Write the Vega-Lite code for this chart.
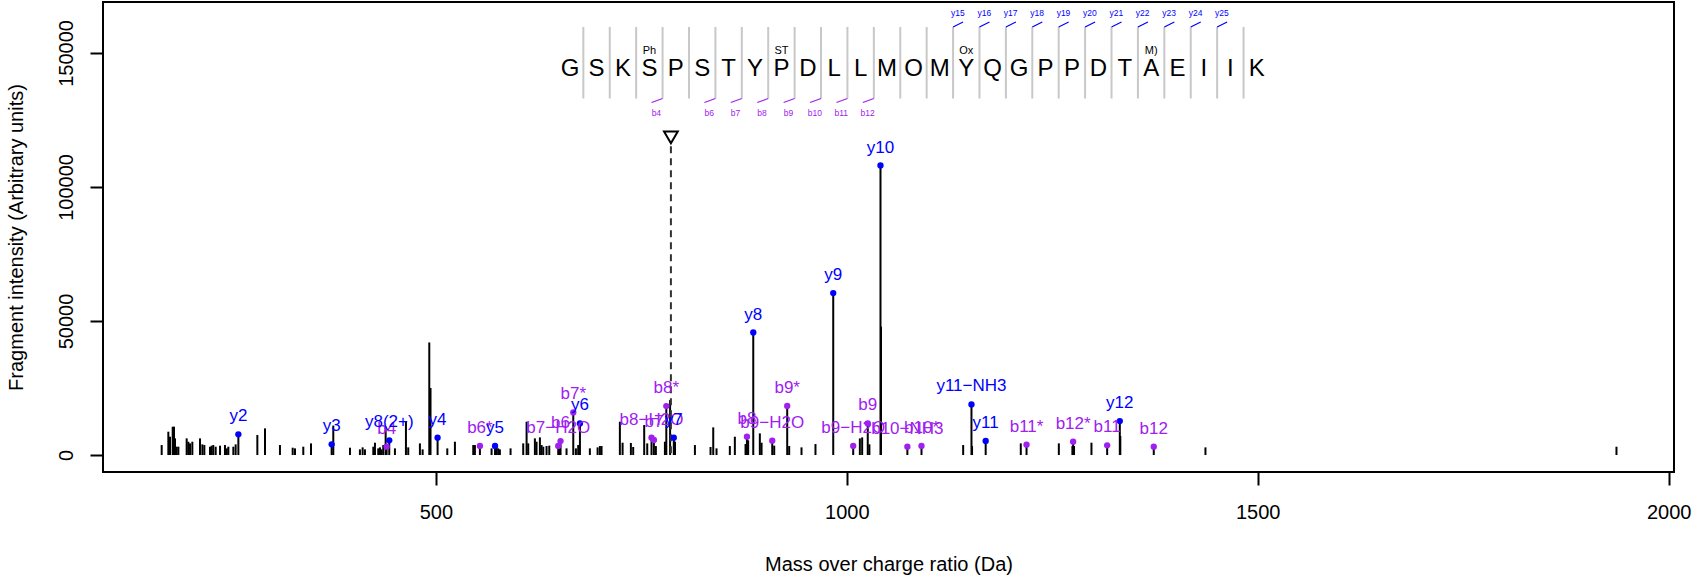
{
  "$schema": "https://vega.github.io/schema/vega-lite/v6.json",
  "width": 1571,
  "height": 470,
  "autosize": {"type": "none"},
  "padding": {"left": 103, "top": 2, "right": 32, "bottom": 107},
  "background": "white",
  "config": {
    "view": {"stroke": "black", "strokeWidth": 2},
    "font": "Liberation Sans",
    "text": {"font": "Liberation Sans"},
    "axis": {
      "domain": false, "grid": false, "ticks": true, "tickSize": 13, "tickWidth": 2, "tickColor": "black",
      "labelFont": "Liberation Sans", "labelFontSize": 20, "labelColor": "black", "labelFlush": false, "labelOverlap": false,
      "titleFont": "Liberation Sans", "titleFontSize": 20, "titleFontWeight": "normal", "titleColor": "black"
    }
  },
  "datasets": {
    "peaks": [
      {"mz":166.4,"intensity":3729},{"mz":174.5,"intensity":8700},{"mz":176.5,"intensity":6837},{"mz":179.8,"intensity":10566},{"mz":181.4,"intensity":10566},{"mz":182.6,"intensity":6215},{"mz":184.6,"intensity":3108},{"mz":186.7,"intensity":3108},{"mz":196.8,"intensity":6215},{"mz":198.8,"intensity":4972},{"mz":200.9,"intensity":4350},{"mz":203.7,"intensity":4972},{"mz":213.0,"intensity":6215},{"mz":215.9,"intensity":3978},{"mz":218.3,"intensity":3729},{"mz":225.2,"intensity":3108},{"mz":227.2,"intensity":3480},{"mz":229.2,"intensity":3729},{"mz":232.1,"intensity":3108},{"mz":237.4,"intensity":3480},{"mz":243.4,"intensity":3729},{"mz":245.5,"intensity":2486},{"mz":247.5,"intensity":3108},{"mz":253.6,"intensity":3108},{"mz":256.4,"intensity":3978},{"mz":259.7,"intensity":7707},{"mz":282.8,"intensity":7458},{"mz":292.1,"intensity":9944},{"mz":310.3,"intensity":3729},{"mz":325.8,"intensity":2735},{"mz":328.6,"intensity":2486},{"mz":338.7,"intensity":3108},{"mz":348.1,"intensity":4350},{"mz":373.2,"intensity":3978},{"mz":375.2,"intensity":11000},{"mz":395.5,"intensity":2735},{"mz":407.6,"intensity":2113},{"mz":410.9,"intensity":2859},{"mz":413.7,"intensity":2113},{"mz":423.9,"intensity":3108},{"mz":425.9,"intensity":4599},{"mz":429.9,"intensity":2486},{"mz":432.0,"intensity":2859},{"mz":434.0,"intensity":2113},{"mz":436.0,"intensity":3729},{"mz":438.9,"intensity":10566},{"mz":440.1,"intensity":3108},{"mz":443.3,"intensity":5469},{"mz":450.2,"intensity":2486},{"mz":463.6,"intensity":12430},{"mz":466.4,"intensity":2859},{"mz":480.6,"intensity":4350},{"mz":483.9,"intensity":2113},{"mz":492.0,"intensity":42000},{"mz":493.5,"intensity":25000},{"mz":502.1,"intensity":6464},{"mz":513.9,"intensity":2486},{"mz":523.2,"intensity":4972},{"mz":545.5,"intensity":3729},{"mz":547.5,"intensity":3729},{"mz":553.6,"intensity":3356},{"mz":567.8,"intensity":2486},{"mz":572.0,"intensity":3356},{"mz":573.9,"intensity":2859},{"mz":575.9,"intensity":2486},{"mz":577.9,"intensity":2113},{"mz":590.9,"intensity":2486},{"mz":606.3,"intensity":4350},{"mz":610.4,"intensity":12430},{"mz":612.4,"intensity":4350},{"mz":620.5,"intensity":6215},{"mz":622.5,"intensity":4972},{"mz":626.6,"intensity":6588},{"mz":628.6,"intensity":3729},{"mz":630.7,"intensity":3108},{"mz":634.7,"intensity":3356},{"mz":638.0,"intensity":3500},{"mz":648.9,"intensity":3356},{"mz":650.9,"intensity":4000},{"mz":651.7,"intensity":5220},{"mz":659.0,"intensity":2486},{"mz":667.2,"intensity":15910},{"mz":670.4,"intensity":2486},{"mz":673.2,"intensity":3729},{"mz":675.3,"intensity":11800},{"mz":687.4,"intensity":2486},{"mz":696.8,"intensity":2859},{"mz":699.6,"intensity":3356},{"mz":701.6,"intensity":3356},{"mz":723.9,"intensity":12430},{"mz":727.2,"intensity":4599},{"mz":737.3,"intensity":4500},{"mz":740.1,"intensity":3000},{"mz":753.5,"intensity":11187},{"mz":757.2,"intensity":4350},{"mz":762.4,"intensity":6464},{"mz":765.3,"intensity":5594},{"mz":767.7,"intensity":3356},{"mz":778.7,"intensity":4972},{"mz":780.4,"intensity":18272},{"mz":785.0,"intensity":20500},{"mz":789.5,"intensity":6464},{"mz":791.0,"intensity":5000},{"mz":815.2,"intensity":3729},{"mz":834.2,"intensity":3000},{"mz":837.5,"intensity":10317},{"mz":841.5,"intensity":2486},{"mz":857.7,"intensity":3356},{"mz":863.8,"intensity":6837},{"mz":876.8,"intensity":4100},{"mz":878.5,"intensity":6837},{"mz":880.0,"intensity":5500},{"mz":886.2,"intensity":45700},{"mz":894.2,"intensity":8080},{"mz":896.3,"intensity":4600},{"mz":909.3,"intensity":5345},{"mz":911.7,"intensity":3500},{"mz":927.5,"intensity":18300},{"mz":929.9,"intensity":3356},{"mz":944.9,"intensity":2859},{"mz":961.9,"intensity":4100},{"mz":983.5,"intensity":60400},{"mz":1007.8,"intensity":3356},{"mz":1015.9,"intensity":6215},{"mz":1018.7,"intensity":6588},{"mz":1025.5,"intensity":11800},{"mz":1027.5,"intensity":4000},{"mz":1041.0,"intensity":108000},{"mz":1041.6,"intensity":47900},{"mz":1073.7,"intensity":3108},{"mz":1090.9,"intensity":3356},{"mz":1141.6,"intensity":3729},{"mz":1151.7,"intensity":18894},{"mz":1152.4,"intensity":3356},{"mz":1169.0,"intensity":5221},{"mz":1211.7,"intensity":4350},{"mz":1218.7,"intensity":3850},{"mz":1258.0,"intensity":4350},{"mz":1274.5,"intensity":3356},{"mz":1275.4,"intensity":4972},{"mz":1276.5,"intensity":3356},{"mz":1297.7,"intensity":4600},{"mz":1316.8,"intensity":3605},{"mz":1332.2,"intensity":12679},{"mz":1332.8,"intensity":7100},{"mz":1373.5,"intensity":3108},{"mz":1436.4,"intensity":2859},{"mz":1936.5,"intensity":3100}
    ],
    "annotations": [
      {"mz":259.7,"intensity":7707,"label":"y2","series":"y"},
      {"mz":373.2,"intensity":3978,"label":"y3","series":"y"},
      {"mz":440.1,"intensity":3108,"label":"b4","series":"b"},
      {"mz":443.3,"intensity":5469,"label":"y8(2+)","series":"y"},
      {"mz":502.1,"intensity":6464,"label":"y4","series":"y"},
      {"mz":553.6,"intensity":3356,"label":"b6*","series":"b"},
      {"mz":572.0,"intensity":3356,"label":"y5","series":"y"},
      {"mz":648.9,"intensity":3356,"label":"b7−H2O","series":"b"},
      {"mz":651.7,"intensity":5220,"label":"b6","series":"b"},
      {"mz":667.2,"intensity":15910,"label":"b7*","series":"b"},
      {"mz":675.3,"intensity":11800,"label":"y6","series":"y"},
      {"mz":762.4,"intensity":6464,"label":"b8−H2O","series":"b"},
      {"mz":765.3,"intensity":5594,"label":"b7","series":"b"},
      {"mz":780.4,"intensity":18272,"label":"b8*","series":"b"},
      {"mz":789.5,"intensity":6464,"label":"y7","series":"y"},
      {"mz":878.5,"intensity":6837,"label":"b8","series":"b"},
      {"mz":886.2,"intensity":45700,"label":"y8","series":"y"},
      {"mz":909.3,"intensity":5345,"label":"b9−H2O","series":"b"},
      {"mz":927.5,"intensity":18300,"label":"b9*","series":"b"},
      {"mz":983.5,"intensity":60400,"label":"y9","series":"y"},
      {"mz":1007.8,"intensity":3356,"label":"b9−H2O","series":"b"},
      {"mz":1025.5,"intensity":11800,"label":"b9","series":"b"},
      {"mz":1041.0,"intensity":108000,"label":"y10","series":"y"},
      {"mz":1073.7,"intensity":3108,"label":"b10−NH3","series":"b"},
      {"mz":1090.9,"intensity":3356,"label":"b10*","series":"b"},
      {"mz":1151.7,"intensity":18894,"label":"y11−NH3","series":"y"},
      {"mz":1169.0,"intensity":5221,"label":"y11","series":"y"},
      {"mz":1218.7,"intensity":3850,"label":"b11*","series":"b"},
      {"mz":1275.4,"intensity":4972,"label":"b12*","series":"b"},
      {"mz":1316.8,"intensity":3605,"label":"b11","series":"b"},
      {"mz":1332.2,"intensity":12679,"label":"y12","series":"y"},
      {"mz":1373.5,"intensity":3108,"label":"b12","series":"b"}
    ],
    "precursor": [{"mz":786.0,"intensity":118500}],
    "residues": [
      {"pos":1,"aa":"G"},{"pos":2,"aa":"S"},{"pos":3,"aa":"K"},{"pos":4,"aa":"S"},{"pos":5,"aa":"P"},{"pos":6,"aa":"S"},{"pos":7,"aa":"T"},{"pos":8,"aa":"Y"},{"pos":9,"aa":"P"},{"pos":10,"aa":"D"},{"pos":11,"aa":"L"},{"pos":12,"aa":"L"},{"pos":13,"aa":"M"},{"pos":14,"aa":"O"},{"pos":15,"aa":"M"},{"pos":16,"aa":"Y"},{"pos":17,"aa":"Q"},{"pos":18,"aa":"G"},{"pos":19,"aa":"P"},{"pos":20,"aa":"P"},{"pos":21,"aa":"D"},{"pos":22,"aa":"T"},{"pos":23,"aa":"A"},{"pos":24,"aa":"E"},{"pos":25,"aa":"I"},{"pos":26,"aa":"I"},{"pos":27,"aa":"K"}
    ],
    "mods": [
      {"pos":4,"mod":"Ph"},{"pos":9,"mod":"ST"},{"pos":16,"mod":"Ox"},{"pos":23,"mod":"M)"}
    ],
    "bions": [
      {"after":4,"label":"b4"},{"after":6,"label":"b6"},{"after":7,"label":"b7"},{"after":8,"label":"b8"},{"after":9,"label":"b9"},{"after":10,"label":"b10"},{"after":11,"label":"b11"},{"after":12,"label":"b12"}
    ],
    "yions": [
      {"after":15,"label":"y15"},{"after":16,"label":"y16"},{"after":17,"label":"y17"},{"after":18,"label":"y18"},{"after":19,"label":"y19"},{"after":20,"label":"y20"},{"after":21,"label":"y21"},{"after":22,"label":"y22"},{"after":23,"label":"y23"},{"after":24,"label":"y24"},{"after":25,"label":"y25"}
    ]
  },
  "layer": [
    {
      "layer": [
        {
          "data": {"name": "peaks"},
          "mark": {"type": "rule", "color": "black", "strokeWidth": 2},
          "encoding": {
            "x": {"field": "mz", "type": "quantitative", "scale": {"domain": [95, 2006.5], "nice": false, "zero": false},
                  "axis": {"title": "Mass over charge ratio (Da)", "values": [500, 1000, 1500, 2000], "format": "d", "labelBaseline": "alphabetic", "labelPadding": 33, "titleY": 92, "titleBaseline": "middle"}},
            "y": {"field": "intensity", "type": "quantitative", "scale": {"domain": [-6330, 169000], "nice": false, "zero": false},
                  "axis": {"title": "Fragment intensity (Arbitrary units)", "values": [0, 50000, 100000, 150000], "format": "d", "labelAngle": -90, "labelAlign": "center", "labelBaseline": "alphabetic", "labelPadding": 18, "titleAngle": -90, "titleX": -87, "titleY": 235, "titleBaseline": "middle", "titleAlign": "center"}},
            "y2": {"datum": 0}
          }
        },
        {
          "data": {"name": "precursor"},
          "mark": {"type": "rule", "color": "#333333", "strokeWidth": 2, "strokeDash": [7, 5], "yOffset": 9},
          "encoding": {
            "x": {"field": "mz", "type": "quantitative"},
            "y": {"field": "intensity", "type": "quantitative"},
            "y2": {"datum": 0}
          }
        },
        {
          "data": {"name": "precursor"},
          "mark": {"type": "point", "shape": "triangle-down", "filled": false, "color": "black", "strokeWidth": 2, "size": 190, "opacity": 1},
          "encoding": {
            "x": {"field": "mz", "type": "quantitative"},
            "y": {"field": "intensity", "type": "quantitative"}
          }
        },
        {
          "data": {"name": "annotations"},
          "mark": {"type": "point", "filled": true, "size": 40, "opacity": 1},
          "encoding": {
            "x": {"field": "mz", "type": "quantitative"},
            "y": {"field": "intensity", "type": "quantitative"},
            "color": {"field": "series", "type": "nominal", "scale": {"domain": ["y", "b"], "range": ["#0000FF", "#A020F0"]}, "legend": null}
          }
        },
        {
          "data": {"name": "annotations"},
          "mark": {"type": "text", "fontSize": 17, "baseline": "middle", "align": "center", "dy": -18},
          "encoding": {
            "x": {"field": "mz", "type": "quantitative"},
            "y": {"field": "intensity", "type": "quantitative"},
            "text": {"field": "label"},
            "color": {"field": "series", "type": "nominal", "scale": {"domain": ["y", "b"], "range": ["#0000FF", "#A020F0"]}, "legend": null}
          }
        }
      ]
    },
    {
      "layer": [
        {
          "data": {"name": "residues"},
          "transform": [{"filter": "datum.pos < 27"}],
          "mark": {"type": "rule", "color": "#C8C8C8", "strokeWidth": 2, "xOffset": 13.2},
          "encoding": {
            "x": {"field": "pos", "type": "quantitative", "scale": {"domain": [-16.69, 42.8], "nice": false, "zero": false}, "axis": null},
            "y": {"datum": 159200, "type": "quantitative", "scale": {"domain": [-6330, 168500], "nice": false, "zero": false}, "axis": null},
            "y2": {"datum": 132600}
          }
        },
        {
          "data": {"name": "residues"},
          "mark": {"type": "text", "fontSize": 24, "baseline": "middle", "align": "center", "color": "black"},
          "encoding": {
            "x": {"field": "pos", "type": "quantitative"},
            "y": {"datum": 143400, "type": "quantitative"},
            "text": {"field": "aa"}
          }
        },
        {
          "data": {"name": "mods"},
          "mark": {"type": "text", "fontSize": 11, "baseline": "middle", "align": "center", "color": "black"},
          "encoding": {
            "x": {"field": "pos", "type": "quantitative"},
            "y": {"datum": 150300, "type": "quantitative"},
            "text": {"field": "mod"}
          }
        },
        {
          "data": {"name": "bions"},
          "mark": {"type": "rule", "color": "#A020F0", "strokeWidth": 1.2, "xOffset": 13.2, "x2Offset": 2.2, "y2Offset": 4},
          "encoding": {
            "x": {"field": "after", "type": "quantitative"},
            "x2": {"field": "after"},
            "y": {"datum": 132600, "type": "quantitative"},
            "y2": {"datum": 132600}
          }
        },
        {
          "data": {"name": "bions"},
          "mark": {"type": "text", "fontSize": 8.5, "baseline": "middle", "align": "center", "color": "#A020F0", "dx": 7},
          "encoding": {
            "x": {"field": "after", "type": "quantitative"},
            "y": {"datum": 127200, "type": "quantitative"},
            "text": {"field": "label"}
          }
        },
        {
          "data": {"name": "yions"},
          "mark": {"type": "rule", "color": "#0000FF", "strokeWidth": 1.2, "xOffset": 13.2, "x2Offset": 23.2, "y2Offset": -5},
          "encoding": {
            "x": {"field": "after", "type": "quantitative"},
            "x2": {"field": "after"},
            "y": {"datum": 159200, "type": "quantitative"},
            "y2": {"datum": 159200}
          }
        },
        {
          "data": {"name": "yions"},
          "mark": {"type": "text", "fontSize": 8.5, "baseline": "middle", "align": "center", "color": "#0000FF", "dx": 18},
          "encoding": {
            "x": {"field": "after", "type": "quantitative"},
            "y": {"datum": 164400, "type": "quantitative"},
            "text": {"field": "label"}
          }
        }
      ]
    }
  ],
  "resolve": {"scale": {"x": "independent", "y": "independent", "color": "independent"}}
}
